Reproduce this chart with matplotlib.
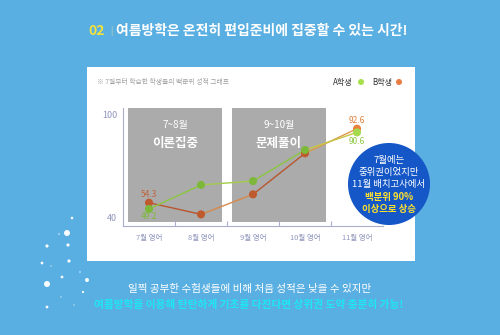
import matplotlib
matplotlib.use("Agg")
import matplotlib.pyplot as plt
from matplotlib.patches import Rectangle, Circle
from matplotlib.collections import LineCollection
import matplotlib.transforms as mtransforms
import numpy as np

plt.rcParams['font.family'] = ['Noto Sans CJK KR', 'DejaVu Sans']

# data
months = ["7월 영어", "8월 영어", "9월 영어", "10월 영어", "11월 영어"]
student_a = [49.2, 62.2, 64.3, 81.1, 90.6]
student_b = [52.6, 46.3, 57.1, 79.3, 92.6]
a_labels = {0: "49.2", 4: "90.6"}
b_labels = {0: "54.3", 4: "92.6"}
phases = [("7~8월", "이론집중", -0.4, 1.4), ("9~10월", "문제풀이", 1.6, 3.4)]
y_ticks = [40, 100]

# decorative snow dots (pixel x, pixel y, radius)
snow = [(72, 218, 1.3), (67, 233, 3.0), (47, 246, 1.6), (68, 245, 1.6), (42, 263, 1.4),
        (69, 261, 1.6), (62, 277, 1.4), (87, 280, 2.0), (47, 284, 3.0), (83, 292, 1.1),
        (47, 307, 1.4), (80, 272, 0.7), (59, 234, 0.7), (51, 266, 0.6), (61, 297, 0.6),
        (74, 305, 0.6)]

BG = "#5aafe2"
a_line = ["#8cc63f", "#a2cc4a", "#8cc63f", "#c6c64a"]
b_line = ["#b9562e", "#d58a4c", "#b9562e", "#dc9a48"]
a_pt = ["#7db83a", "#7db83a", "#7db83a", "#7db83a", "#a5d94e"]
b_pt = ["#bf5a2e", "#bf5a2e", "#bf5a2e", "#bf5a2e", "#e8803c"]

W, H = 500, 335
fig = plt.figure(figsize=(5, 3.35), dpi=100, facecolor=BG)

# background layer in pixel coords
bg = fig.add_axes([0, 0, 1, 1], zorder=0)
bg.set_xlim(0, W)
bg.set_ylim(H, 0)
bg.axis("off")
bg.add_patch(Rectangle((87, 67), 328, 194, facecolor="white", edgecolor="none"))
for x, y, r in snow:
    bg.add_patch(Circle((x, y), r, facecolor="white", edgecolor="none", alpha=0.95))

bg.text(97, 31, "02", color="#f2e23a", fontsize=10, fontweight="heavy", va="center", ha="center")
bg.text(111, 31, "|", color="#d9d9a0", fontsize=6, va="center", ha="center")
bg.text(116, 31, "여름방학은 온전히 편입준비에 집중할 수 있는 시간!", color="white",
        fontsize=10, fontweight="heavy", va="center", ha="left")
bg.text(97, 82, "※ 7월부터 학습한 학생들의 백분위 성적 그래프", color="#a0a0a0",
        fontsize=4.9, va="center", ha="left")
bg.text(343, 82, "A학생", color="#333333", fontsize=5.8, va="center", ha="center")
bg.add_patch(Circle((361, 82), 3, facecolor="#a8e04a", edgecolor="none"))
bg.text(382, 82, "B학생", color="#333333", fontsize=5.8, va="center", ha="center")
bg.add_patch(Circle((399, 82), 3, facecolor="#e87c42", edgecolor="none"))

bg.text(250, 289, "일찍 공부한 수험생들에 비해 처음 성적은 낮을 수 있지만", color="white",
        fontsize=7.6, va="center", ha="center")
bg.text(249, 305, "여름방학을 이용해 탄탄하게 기초를 다진다면 상위권 도약 충분히 가능!",
        color="#1ee6f2", fontsize=7.7, fontweight="heavy", va="center", ha="center")

# chart axes
ymin, ymax = 40, 104
left, right = 123 / W, 383 / W
bottom = 1 - 226 / H
top = 1 - (226 - (ymax - ymin) * 1.85) / H
ax = fig.add_axes([left, bottom, right - left, top - bottom], zorder=2)
ax.set_facecolor("none")
x = np.arange(len(months))
ax.set_xlim(-0.5, len(months) - 0.5)
ax.set_ylim(ymin, ymax)

for sub, main, x0, x1 in phases:
    ax.add_patch(Rectangle((x0, 42.3), x1 - x0, ymax - 42.3, facecolor="#ababab",
                           edgecolor="none", zorder=1))
    xc = (x0 + x1) / 2
    ax.text(xc, 94.5, sub, color="white", fontsize=7.2, ha="center", va="center", zorder=2)
    ax.text(xc, 84.5, main, color="white", fontsize=9, fontweight="bold",
            ha="center", va="center", zorder=2)


def draw_series(vals, seg_colors, pt_colors):
    pts = np.column_stack([x, vals])
    segs = [pts[i:i + 2] for i in range(len(pts) - 1)]
    ax.add_collection(LineCollection(segs, colors=seg_colors, linewidths=1.0, zorder=3))
    ax.scatter(x, vals, s=34, c=pt_colors, edgecolors="none", zorder=4)


draw_series(student_b, b_line, b_pt)
draw_series(student_a, a_line, a_pt)

off = lambda dy: mtransforms.offset_copy(ax.transData, fig=fig, x=0, y=dy, units="points")
ax.text(x[0], student_b[0], b_labels[0], color="#c0643a", fontsize=6, ha="center",
        va="bottom", transform=off(2.5), zorder=5)
ax.text(x[0], student_a[0], a_labels[0], color="#7db83a", fontsize=6, ha="center",
        va="top", transform=off(-2.5), zorder=5)
ax.text(x[4], student_b[4], b_labels[4], color="#e0803c", fontsize=6, ha="center",
        va="bottom", transform=off(3), zorder=5)
ax.text(x[4], student_a[4], a_labels[4], color="#8cc63f", fontsize=6, ha="center",
        va="top", transform=off(-3), zorder=5)

axis_c = "#a9aecb"
for s in ["top", "right"]:
    ax.spines[s].set_visible(False)
ax.spines["left"].set_color(axis_c)
ax.spines["bottom"].set_color(axis_c)
ax.spines["left"].set_linewidth(0.8)
ax.spines["bottom"].set_linewidth(0.8)
ax.set_xticks(x)
ax.set_xticklabels(months, fontsize=5.4, color="#8f95bb")
ax.set_xticks(x[:-1] + 0.5, minor=True)
ax.tick_params(axis="x", which="major", length=0, pad=6)
ax.tick_params(axis="x", which="minor", length=3.5, direction="in", color=axis_c, width=0.8)
ax.set_yticks(y_ticks)
ax.set_yticklabels([str(v) for v in y_ticks], fontsize=6.5, color="#8f95bb")
ax.tick_params(axis="y", length=0, pad=4)
lab40 = ax.get_yticklabels()[0]
lab40.set_transform(lab40.get_transform() + mtransforms.ScaledTranslation(0, 6 / 72, fig.dpi_scale_trans))

# foreground callout bubble
fg = fig.add_axes([0, 0, 1, 1], zorder=3)
fg.set_xlim(0, W)
fg.set_ylim(H, 0)
fg.axis("off")
fg.add_patch(Circle((389, 184), 41, facecolor="#1557c6", edgecolor="none"))
lines = [("7월에는", "white", "medium", 160),
         ("중위권이었지만", "white", "medium", 172),
         ("11월 배치고사에서", "white", "medium", 184),
         ("백분위 90%", "#ffe22e", "bold", 197),
         ("이상으로 상승", "#ffe22e", "bold", 209)]
for txt, col, wt, yy in lines:
    fg.text(389, yy, txt, color=col, fontsize=6.8, fontweight=wt, ha="center", va="center")

fig.savefig("out.png", dpi=100, facecolor=BG)
